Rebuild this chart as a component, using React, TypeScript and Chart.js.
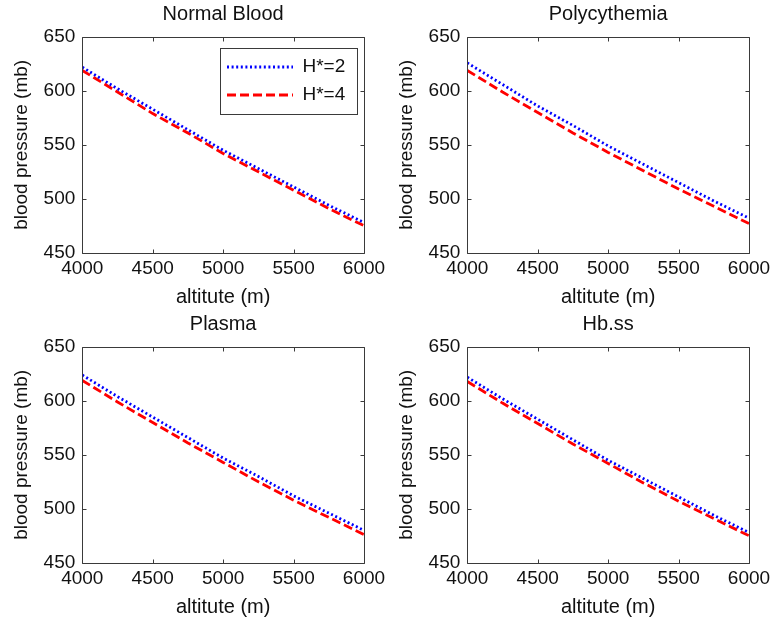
import React, { useEffect, useRef } from "react";
import { Chart, registerables } from "chart.js";

Chart.register(...registerables);

// ---------- data ----------
const altitudes = [4000, 4250, 4500, 4750, 5000, 5250, 5500, 5750, 6000];
const xTickValues = [4000, 4500, 5000, 5500, 6000];
const yTickValues = [450, 500, 550, 600, 650];
const seriesLabels = ["H*=2", "H*=4"];
const panelTitles = ["Normal Blood", "Polycythemia", "Plasma", "Hb.ss"];
const xAxisTitle = "altitute (m)";
const yAxisTitle = "blood pressure (mb)";

const normalH2 = [622, 602, 583, 564, 545, 528, 511, 494, 478];
const normalH4 = [619, 599, 579, 561, 542, 525, 508, 491, 475];
const polyH2 = [626, 606, 586, 568, 549, 532, 515, 498, 482];
const polyH4 = [619, 599, 580, 561, 543, 526, 509, 493, 477];
const plasmaH2 = [624, 604, 585, 566, 547, 530, 512, 496, 480];
const plasmaH4 = [619, 599, 580, 561, 543, 525, 508, 492, 476];
const hbssH2 = [622, 602, 583, 564, 545, 528, 511, 494, 478];
const hbssH4 = [618, 598, 579, 560, 542, 524, 507, 491, 475];

const panelSeries = [
  [normalH2, normalH4],
  [polyH2, polyH4],
  [plasmaH2, plasmaH4],
  [hbssH2, hbssH4],
];

// ---------- styles ----------
const FONT = "'Liberation Sans', Arial, Helvetica, sans-serif";
const TEXT = "#111111";
const FRAME = "#3a3a3a";
const PANEL_W = 386;
const PANEL_H = 310;
const panelPos = [
  { left: 0, top: 0 },
  { left: 385, top: 0 },
  { left: 0, top: 310 },
  { left: 385, top: 310 },
];

const LEGEND_BOX_W = 137;
const LEGEND_BOX_H = 66;

const matlabPlugin = {
  id: "matlabFrame",
  afterLayout(chart: any) {
    const lg = chart.legend;
    if (!lg || !chart.options.plugins.legend.display) return;
    const a = chart.chartArea;
    const boxLeft = a.right - 7 - LEGEND_BOX_W;
    const boxTop = a.top + 11;
    const h = lg.height;
    const w = lg.width;
    lg.left = boxLeft - 2;
    lg.top = boxTop + 0.5;
    lg.right = lg.left + w;
    lg.bottom = lg.top + h;
    chart.$legendBox = { left: boxLeft, top: boxTop };
  },
  beforeDraw(chart: any) {
    const b = chart.$legendBox;
    if (!b || !chart.options.plugins.legend.display) return;
    const ctx = chart.ctx;
    ctx.save();
    ctx.fillStyle = "#ffffff";
    ctx.fillRect(b.left, b.top, LEGEND_BOX_W, LEGEND_BOX_H);
    ctx.strokeStyle = FRAME;
    ctx.lineWidth = 1;
    ctx.strokeRect(Math.round(b.left) + 0.5, Math.round(b.top) + 0.5, LEGEND_BOX_W, LEGEND_BOX_H);
    ctx.restore();
  },
  afterDraw(chart: any) {
    const { ctx, chartArea: a } = chart;
    const xs = chart.scales.x;
    const ys = chart.scales.y;
    const L = Math.round(a.left) + 0.5;
    const R = Math.round(a.right) + 0.5;
    const T = Math.round(a.top) + 0.5;
    const B = Math.round(a.bottom) + 0.5;
    ctx.save();
    ctx.strokeStyle = FRAME;
    ctx.lineWidth = 1;
    ctx.setLineDash([]);
    ctx.beginPath();
    ctx.rect(L, T, R - L, B - T);
    const tl = 4;
    xs.ticks.forEach((t: any) => {
      const px = Math.round(xs.getPixelForValue(t.value)) + 0.5;
      ctx.moveTo(px, B);
      ctx.lineTo(px, B - tl);
      ctx.moveTo(px, T);
      ctx.lineTo(px, T + tl);
    });
    ys.ticks.forEach((t: any) => {
      const py = Math.round(ys.getPixelForValue(t.value)) + 0.5;
      ctx.moveTo(L, py);
      ctx.lineTo(L + tl, py);
      ctx.moveTo(R, py);
      ctx.lineTo(R - tl, py);
    });
    ctx.stroke();
    ctx.restore();
  },
};

function makeConfig(index: number) {
  const [h2, h4] = panelSeries[index];
  const showLegend = index === 0;
  return {
    type: "line",
    data: {
      datasets: [
        {
          label: seriesLabels[0],
          data: altitudes.map((x, i) => ({ x, y: h2[i] })),
          borderColor: "#0000ff",
          backgroundColor: "#0000ff",
          borderWidth: 2.8,
          borderDash: [2, 2.6],
          pointRadius: 0,
          tension: 0,
        },
        {
          label: seriesLabels[1],
          data: altitudes.map((x, i) => ({ x, y: h4[i] })),
          borderColor: "#ff0000",
          backgroundColor: "#ff0000",
          borderWidth: 2.8,
          borderDash: [9, 4],
          pointRadius: 0,
          tension: 0,
        },
      ],
    },
    options: {
      animation: false,
      responsive: false,
      devicePixelRatio: 1,
      layout: { padding: { left: 0, right: 22, top: 0, bottom: 0 } },
      plugins: {
        title: {
          display: true,
          text: panelTitles[index],
          fullSize: false,
          color: TEXT,
          font: { family: FONT, size: 20, weight: "normal", lineHeight: 1.2 },
          padding: { top: 2, bottom: 11 },
        },
        legend: {
          display: showLegend,
          position: "chartArea",
          align: "start",
          labels: {
            usePointStyle: true,
            pointStyle: "line",
            pointStyleWidth: 66,
            padding: 9,
            color: TEXT,
            textAlign: "left",
            font: { family: FONT, size: 19 },
            generateLabels: (chart: any) => {
              const items = (Chart.defaults as any).plugins.legend.labels.generateLabels(chart);
              return items.map((it: any) => {
                const ds = chart.data.datasets[it.datasetIndex];
                return {
                  ...it,
                  pointStyle: "line",
                  lineDash: ds.borderDash,
                  lineWidth: ds.borderWidth,
                  strokeStyle: ds.borderColor,
                  fillStyle: ds.borderColor,
                };
              });
            },
          },
        },
        tooltip: { enabled: false },
      },
      scales: {
        x: {
          type: "linear",
          min: 4000,
          max: 6000,
          grid: { display: false, drawTicks: false },
          border: { display: false },
          afterBuildTicks: (s: any) => {
            s.ticks = xTickValues.map((v) => ({ value: v }));
          },
          afterFit: (s: any) => {
            s.height = 57.3;
            s.paddingLeft = 0;
            s.paddingRight = 0;
          },
          ticks: {
            color: TEXT,
            padding: 5,
            maxRotation: 0,
            autoSkip: false,
            font: { family: FONT, size: 19 },
            callback: (v: any) => String(v),
          },
          title: {
            display: true,
            text: xAxisTitle,
            color: TEXT,
            font: { family: FONT, size: 20 },
            padding: { top: 0, bottom: 1 },
          },
        },
        y: {
          type: "linear",
          min: 450,
          max: 650,
          grid: { display: false, drawTicks: false },
          border: { display: false },
          afterBuildTicks: (s: any) => {
            s.ticks = yTickValues.map((v) => ({ value: v }));
          },
          afterFit: (s: any) => {
            s.width = 82.3;
            s.paddingTop = 0;
            s.paddingBottom = 0;
          },
          ticks: {
            color: TEXT,
            padding: 7,
            autoSkip: false,
            font: { family: FONT, size: 19 },
            callback: (v: any) => String(v),
          },
          title: {
            display: true,
            text: yAxisTitle,
            color: TEXT,
            font: { family: FONT, size: 19 },
            padding: { top: 10, bottom: 0 },
          },
        },
      },
    },
    plugins: [matlabPlugin],
  };
}

function Panel({ index }: { index: number }) {
  const ref = useRef<HTMLCanvasElement | null>(null);
  useEffect(() => {
    if (!ref.current) return;
    const chart = new Chart(ref.current, makeConfig(index) as any);
    return () => chart.destroy();
  }, [index]);
  const pos = panelPos[index];
  return (
    <div
      style={{
        position: "absolute",
        left: pos.left,
        top: pos.top,
        width: PANEL_W,
        height: PANEL_H,
      }}
    >
      <canvas ref={ref} width={PANEL_W} height={PANEL_H} style={{ display: "block" }} />
    </div>
  );
}

export default function App() {
  return (
    <div
      style={{
        position: "absolute",
        left: 0,
        top: 0,
        width: 772,
        height: 622,
        background: "#ffffff",
        overflow: "hidden",
      }}
    >
      {panelTitles.map((_, i) => (
        <Panel key={i} index={i} />
      ))}
    </div>
  );
}
